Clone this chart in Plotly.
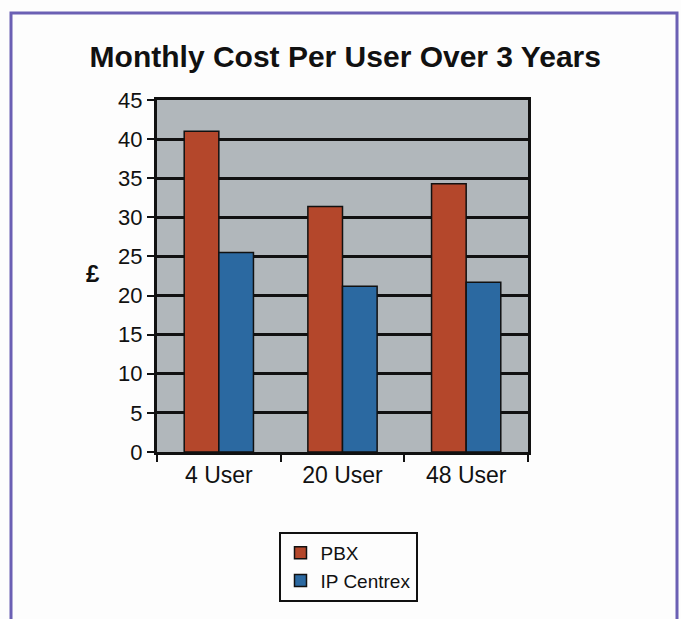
import plotly.graph_objects as go

categories = ["4 User", "20 User", "48 User"]
pbx = [41.0, 31.4, 34.3]
ip_centrex = [25.5, 21.2, 21.7]
y_ticks = [0, 5, 10, 15, 20, 25, 30, 35, 40, 45]

W, H = 681, 619
L, R, T, B = 157, 153, 100, 167
pw, ph = W - L - R, H - T - B

def px_x(x):
    return (x - L) / pw

def px_y(y):
    return (H - B - y) / ph

fig = go.Figure()
fig.add_bar(x=categories, y=pbx, name="PBX",
            marker=dict(color="#b4472b", line=dict(color="#111", width=1.5)))
fig.add_bar(x=categories, y=ip_centrex, name="IP Centrex",
            marker=dict(color="#2b69a1", line=dict(color="#111", width=1.5)))

fig.update_layout(
    width=W, height=H,
    margin=dict(l=L, r=R, t=T, b=B),
    paper_bgcolor="#fdfdfd",
    plot_bgcolor="#b1b7bb",
    barmode="group", bargap=0.44, bargroupgap=0,
    font=dict(family="Liberation Sans, Arial, sans-serif", color="#111", size=21),
    title=dict(text="<b>Monthly Cost Per User Over 3 Years</b>", x=0.507, xanchor="center",
               y=1 - 56 / H, yanchor="middle", font=dict(size=30, color="#111")),
    showlegend=True,
    legend=dict(x=px_x(348), y=px_y(532), xanchor="center", yanchor="top",
                bordercolor="#111", borderwidth=2, bgcolor="#fdfdfd",
                font=dict(size=19, color="#111"), itemwidth=30,
                tracegroupgap=2),
    xaxis=dict(showline=True, linecolor="#111", linewidth=3, mirror=True,
               ticks="outside", tickson="boundaries", ticklen=7, tickwidth=2,
               tickcolor="#111", showgrid=False, tickfont=dict(size=23)),
    yaxis=dict(range=[0, 45], tickvals=y_ticks, showline=True, linecolor="#111",
               linewidth=3, mirror=True, ticks="outside", ticklen=7, tickwidth=2,
               tickcolor="#111", showgrid=True, gridcolor="#111", gridwidth=2.5,
               zeroline=False, tickfont=dict(size=22)),
    shapes=[dict(type="rect", xref="paper", yref="paper",
                 x0=px_x(11), x1=px_x(677), y0=px_y(640), y1=px_y(13),
                 line=dict(color="#6b60b4", width=3), layer="below")],
    annotations=[dict(text="<b>£</b>", xref="paper", yref="paper",
                      x=px_x(84), y=px_y(273), showarrow=False,
                      font=dict(size=24, color="#111"))],
)

fig.write_html("out.html")
